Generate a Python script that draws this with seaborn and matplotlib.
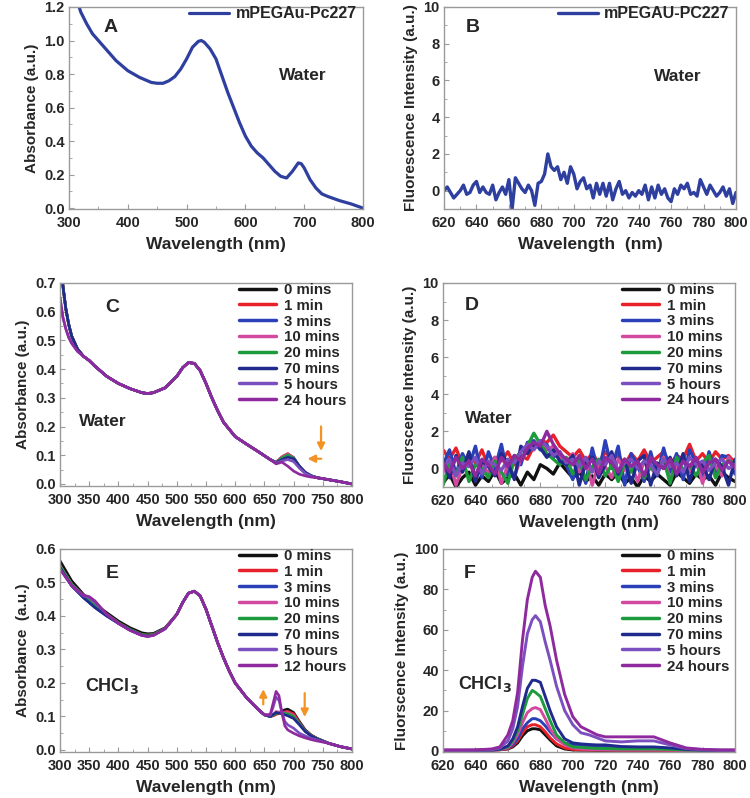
import numpy as np
import pandas as pd
import matplotlib
matplotlib.use("Agg")
import matplotlib.pyplot as plt
import seaborn as sns

# ---------------- data ----------------
# Panel A: absorbance of mPEGAu-Pc227 in water
wl_a = [300, 310, 320, 330, 340, 350, 360, 370, 380, 390, 400, 410, 420, 430, 440, 450, 460,
        470, 480, 490, 500, 510, 520, 525, 530, 540, 550, 560, 570, 580, 590, 600, 610, 620,
        630, 640, 650, 660, 670, 680, 690, 695, 700, 710, 720, 730, 740, 760, 780, 800]
abs_a = [1.42, 1.28, 1.17, 1.10, 1.04, 1.00, 0.96, 0.92, 0.88, 0.85, 0.82, 0.80, 0.78, 0.765,
         0.75, 0.745, 0.745, 0.76, 0.785, 0.83, 0.89, 0.96, 0.995, 1.0, 0.99, 0.95, 0.89, 0.79,
         0.69, 0.60, 0.51, 0.43, 0.37, 0.33, 0.30, 0.26, 0.22, 0.19, 0.18, 0.22, 0.27, 0.265,
         0.24, 0.17, 0.12, 0.085, 0.07, 0.045, 0.025, 0.0]

# Panel B: fluorescence of mPEGAu-Pc227 in water (2 nm steps)
wl_b = list(range(620, 801, 2))
fl_b = [0.0, 0.2, -0.1, -0.4, -0.2, 0.0, 0.3, -0.2, -0.1, 0.3,
        0.5, -0.1, 0.2, -0.1, -0.2, 0.3, -0.5, -0.1, 0.2, -0.2,
        0.6, -1.0, 0.7, 0.4, 0.1, -0.1, 0.3, 0.0, -0.8, 0.4,
        0.5, 0.9, 2.0, 1.3, 1.1, 1.3, 0.6, 1.0, 0.4, 1.3,
        0.9, 0.1, 0.5, 0.7, 0.1, 0.3, -0.4, 0.4, -0.2, 0.4,
        -0.3, 0.4, -0.5, 0.1, 0.5, -0.2, 0.0, -0.4, -0.1, -0.3,
        0.0, -0.2, 0.3, -0.5, 0.2, -0.4, 0.3, -0.2, 0.1, -0.4,
        -0.6, 0.1, -0.2, 0.3, 0.1, 0.4, -0.2, -0.1, -0.3, 0.6,
        0.2, -0.2, 0.3, 0.0, -0.3, -0.1, 0.2, -0.3, 0.1, -0.7,
        -0.1]

times_water = ["0 mins", "1 min", "3 mins", "10 mins", "20 mins", "70 mins", "5 hours", "24 hours"]
times_chcl3_abs = ["0 mins", "1 min", "3 mins", "10 mins", "20 mins", "70 mins", "5 hours", "12 hours"]
series_colors = ["#111111", "#e8202a", "#2b40b8", "#d24aa0", "#1d9b3c", "#1f2a8c", "#7b4fbf", "#8e2a9e"]

# Panel C: absorbance in water, pieces of the spectrum
wl_c_head = [300, 305, 310, 315, 320, 330]
wl_c_mid = [340, 350, 360, 380, 400, 420, 440, 450, 460, 480, 500, 510, 520, 530, 540, 550,
            560, 570, 580, 590, 600, 620, 640, 660]
wl_c_peak = [670, 680, 690, 700, 710, 720, 730]
wl_c_tail = [740, 760, 780, 800]
abs_c_head = [
    [0.80, 0.69, 0.61, 0.555, 0.515, 0.47],
    [0.80, 0.69, 0.61, 0.555, 0.515, 0.47],
    [0.80, 0.69, 0.61, 0.555, 0.515, 0.47],
    [0.80, 0.69, 0.61, 0.555, 0.515, 0.47],
    [0.80, 0.69, 0.61, 0.555, 0.515, 0.47],
    [0.80, 0.69, 0.61, 0.555, 0.515, 0.47],
    [0.65, 0.58, 0.54, 0.51, 0.49, 0.462],
    [0.65, 0.58, 0.54, 0.51, 0.49, 0.462],
]
abs_c_mid = [0.445, 0.43, 0.41, 0.375, 0.35, 0.332, 0.318, 0.315, 0.318, 0.335, 0.375, 0.405,
             0.423, 0.42, 0.395, 0.35, 0.30, 0.255, 0.215, 0.19, 0.165, 0.138, 0.112, 0.085]
abs_c_peak = [
    [0.075, 0.092, 0.103, 0.090, 0.058, 0.038, 0.028],
    [0.076, 0.095, 0.106, 0.092, 0.060, 0.039, 0.028],
    [0.075, 0.090, 0.100, 0.092, 0.062, 0.040, 0.029],
    [0.076, 0.094, 0.105, 0.091, 0.059, 0.038, 0.028],
    [0.075, 0.091, 0.101, 0.090, 0.060, 0.039, 0.028],
    [0.074, 0.085, 0.093, 0.088, 0.062, 0.041, 0.029],
    [0.073, 0.080, 0.085, 0.078, 0.055, 0.037, 0.027],
    [0.070, 0.076, 0.062, 0.045, 0.034, 0.028, 0.024],
]
abs_c_tail = [0.022, 0.015, 0.008, 0.0]

# Panel D: fluorescence in water (4 nm steps)
wl_d = list(range(620, 801, 4))
fl_d = [
    [-0.8, -0.3, -1.0, -0.5, -0.2, -0.9, -0.4, -0.7, -0.1, -0.8,
     -0.5, -0.3, -0.9, -0.2, -0.6, 0.2, 0.0, -0.3, 0.3, -0.1,
     -0.5, -0.2, -0.7, -0.4, -0.9, -0.3, -0.6, -0.2, -0.8, -0.5,
     -1.0, -0.4, -0.7, -0.3, -0.6, -0.9, -0.2, -0.5, -0.8, -0.3,
     -0.6, -0.4, -0.9, -0.2, -0.5, -0.7],
    [1.0, 0.5, 1.1, 0.2, 0.8, 0.3, 1.0, 0.1, 0.6, 0.4,
     0.9, 0.2, 0.7, 0.5, 1.2, 1.5, 1.4, 1.8, 1.2, 0.9,
     0.6, 1.0, 0.4, 0.8, 0.3, 0.9, 0.5, 0.7, 0.2, 0.8,
     0.4, 1.0, 0.3, 0.6, 0.9, 0.2, 0.7, 0.5, 1.3, 0.4,
     0.8, 0.3, 0.9, 0.5, 0.7, 0.3],
    [0.2, 1.0, -0.3, 0.8, 0.1, 1.2, -0.5, 0.9, 0.0, 1.3,
     -0.4, 0.7, 0.2, 1.4, 1.5, 1.0, 1.3, 0.6, 0.9, 0.2,
     -0.6, 0.5, -0.8, 1.1, -0.3, 1.5, 0.0, 1.2, -0.9, 0.8,
     0.1, -0.7, 0.9, -0.4, 1.1, -0.2, 0.8, -0.6, 1.0, 0.3,
     -0.5, 0.9, -0.2, 0.7, 0.6, -0.3],
    [-0.2, 0.4, -0.9, 0.1, 0.5, -0.6, 0.3, -0.3, 0.6, -0.8,
     0.2, -0.4, 0.5, 0.9, 1.1, 1.4, 1.0, 1.2, 0.6, 0.3,
     0.8, -0.2, 0.4, -0.9, 0.3, 0.1, -0.5, 0.5, -0.1, 0.2,
     -0.7, 0.4, 0.0, -0.3, 0.6, -0.6, 0.2, 0.4, -0.2, 0.5,
     -0.8, 0.3, 0.1, -0.4, 0.6, 0.0],
    [-0.9, 0.3, -0.4, 0.6, -0.7, 0.2, 0.0, -0.5, 0.4, -0.2,
     -0.8, 0.5, 0.9, 1.2, 1.9, 1.3, 0.8, 0.5, 0.2, 0.6,
     -0.3, 0.4, -0.6, 0.1, 0.5, -0.4, 0.2, -0.7, 0.3, -0.2,
     0.4, -0.5, 0.1, -0.3, 0.5, -0.8, 0.6, -0.1, 0.2, -0.4,
     0.3, 0.7, -0.5, 0.2, 0.4, 0.3],
    [0.5, -0.5, 0.7, -0.2, 0.9, -0.7, 0.4, 0.1, -0.4, 0.8,
     0.3, -0.6, 1.2, 0.8, 1.3, 1.1, 0.6, 1.0, 0.4, 0.2,
     0.7, -0.9, 0.3, 0.6, -0.5, 0.2, 0.9, -0.3, 0.5, -0.8,
     0.4, 0.7, -0.9, 0.3, 0.0, 0.6, -0.4, 0.8, -0.7, 0.4,
     0.2, -0.6, 0.5, 0.1, -0.9, 0.5],
    [0.0, 0.5, -0.4, 0.3, 0.1, 0.6, -0.3, 0.4, 0.2, -0.1,
     0.5, 0.3, 0.9, 1.3, 1.0, 1.5, 1.2, 0.7, 0.9, 0.3,
     0.5, 0.1, 0.6, -0.2, 0.4, 0.2, 0.7, -0.1, 0.3, 0.5,
     0.0, 0.4, 0.2, -0.3, 0.5, 0.1, 0.3, -0.2, 0.6, 0.2,
     0.4, -0.1, 0.3, 0.5, 0.0, 0.2],
    [0.3, -0.2, 0.6, 0.0, 0.4, -0.4, 0.5, 0.2, -0.3, 0.6,
     0.1, 0.7, 0.4, 1.1, 1.4, 1.2, 2.0, 1.3, 0.8, 0.5,
     0.2, 0.7, 0.0, 0.5, -0.3, 0.6, 0.3, -0.2, 0.5, 0.1,
     0.4, -0.4, 0.6, 0.2, 0.0, 0.5, -0.3, 0.4, 0.1, 0.6,
     -0.2, 0.3, 0.5, -0.1, 0.4, 0.1],
]

# Panel E: absorbance in CHCl3, pieces of the spectrum
wl_e_head = [300, 320, 340, 350, 360, 380, 400, 420, 440, 450, 460, 480]
wl_e_mid = [500, 510, 520, 530, 540, 550, 560, 570, 580, 590, 600, 620, 640]
wl_e_peak = [650, 660, 665, 670, 675, 680, 685, 690, 700, 710, 720, 730, 740]
wl_e_tail = [760, 780, 800]
abs_e_head = [
    [0.565, 0.505, 0.465, 0.45, 0.435, 0.41, 0.385, 0.365, 0.35, 0.347, 0.348, 0.365],
    [0.55, 0.495, 0.46, 0.445, 0.43, 0.405, 0.38, 0.36, 0.345, 0.343, 0.345, 0.363],
    [0.545, 0.49, 0.455, 0.44, 0.425, 0.40, 0.378, 0.358, 0.343, 0.34, 0.343, 0.362],
    [0.55, 0.495, 0.462, 0.455, 0.44, 0.405, 0.378, 0.358, 0.343, 0.34, 0.343, 0.362],
    [0.55, 0.495, 0.46, 0.445, 0.43, 0.405, 0.38, 0.36, 0.345, 0.343, 0.345, 0.363],
    [0.545, 0.49, 0.455, 0.44, 0.425, 0.40, 0.378, 0.358, 0.343, 0.34, 0.343, 0.362],
    [0.54, 0.49, 0.46, 0.455, 0.44, 0.405, 0.378, 0.357, 0.342, 0.339, 0.342, 0.362],
    [0.54, 0.49, 0.462, 0.458, 0.445, 0.405, 0.378, 0.357, 0.342, 0.339, 0.342, 0.362],
]
abs_e_mid = [0.405, 0.44, 0.468, 0.474, 0.46, 0.42, 0.37, 0.32, 0.275, 0.235, 0.20, 0.155, 0.12]
abs_e_peak = [
    [0.105, 0.10, 0.103, 0.108, 0.112, 0.116, 0.12, 0.122, 0.112, 0.085, 0.06, 0.045, 0.035],
    [0.105, 0.10, 0.102, 0.106, 0.109, 0.112, 0.114, 0.115, 0.108, 0.082, 0.058, 0.044, 0.034],
    [0.105, 0.10, 0.104, 0.11, 0.112, 0.112, 0.11, 0.108, 0.10, 0.08, 0.057, 0.043, 0.034],
    [0.105, 0.10, 0.105, 0.115, 0.113, 0.11, 0.111, 0.112, 0.103, 0.078, 0.056, 0.043, 0.034],
    [0.105, 0.10, 0.104, 0.11, 0.11, 0.11, 0.109, 0.108, 0.10, 0.078, 0.056, 0.043, 0.034],
    [0.105, 0.10, 0.106, 0.112, 0.11, 0.108, 0.105, 0.102, 0.094, 0.075, 0.055, 0.042, 0.033],
    [0.105, 0.104, 0.128, 0.158, 0.148, 0.112, 0.085, 0.075, 0.065, 0.05, 0.042, 0.035, 0.03],
    [0.105, 0.106, 0.14, 0.175, 0.162, 0.11, 0.072, 0.06, 0.05, 0.042, 0.036, 0.031, 0.027],
]
abs_e_tail = [0.02, 0.01, 0.003]

# Panel F: fluorescence in CHCl3
wl_f = [620, 630, 640, 650, 655, 660, 663, 666, 669, 672, 675, 677, 680, 683, 686, 690, 695,
        700, 705, 710, 715, 720, 730, 740, 750, 760, 770, 780, 790, 800]
fl_f = [
    [0.2, 0.2, 0.3, 0.4, 0.6, 1.0, 2.0, 4.0, 7.5, 10.0, 11.0, 11.0, 10.5, 8.0, 5.5, 2.5, 1.0,
     0.5, 0.4, 0.4, 0.3, 0.3, 0.3, 0.3, 0.3, 0.2, 0.2, 0.2, 0.2, 0.2],
    [0.3, 0.3, 0.3, 0.4, 0.6, 1.2, 2.5, 5.0, 9.0, 12.0, 13.0, 13.0, 12.0, 9.5, 6.5, 3.5, 1.5,
     0.8, 0.6, 0.5, 0.5, 0.5, 0.4, 0.4, 0.4, 0.3, 0.3, 0.3, 0.3, 0.3],
    [0.3, 0.3, 0.3, 0.5, 0.8, 1.5, 3.0, 6.0, 11.0, 14.0, 16.0, 16.0, 15.0, 12.5, 9.5, 6.0, 4.0,
     3.0, 2.8, 2.5, 2.3, 2.2, 1.8, 1.8, 1.6, 1.2, 0.7, 0.4, 0.3, 0.3],
    [0.3, 0.3, 0.3, 0.5, 0.8, 1.5, 4.0, 8.0, 14.0, 19.0, 21.0, 21.5, 20.5, 16.0, 11.0, 6.0, 3.0,
     1.5, 1.0, 0.8, 0.7, 0.6, 0.5, 0.5, 0.5, 0.4, 0.3, 0.3, 0.3, 0.3],
    [0.3, 0.3, 0.3, 0.5, 0.9, 2.0, 5.0, 10.0, 18.0, 26.0, 30.0, 29.0, 27.0, 21.0, 15.0, 8.0, 4.0,
     2.0, 1.8, 1.5, 1.3, 1.2, 1.0, 1.0, 1.0, 0.8, 0.5, 0.3, 0.3, 0.3],
    [0.3, 0.3, 0.3, 0.5, 0.9, 2.5, 6.0, 12.0, 22.0, 31.0, 35.0, 35.0, 34.0, 27.0, 20.0, 12.0, 6.0,
     4.0, 3.5, 3.2, 3.0, 3.0, 2.2, 2.0, 2.0, 1.5, 0.8, 0.4, 0.3, 0.3],
    [0.3, 0.3, 0.4, 0.6, 1.5, 5.0, 11.0, 22.0, 42.0, 58.0, 65.0, 67.0, 64.0, 54.0, 45.0, 32.0, 20.0,
     13.0, 9.0, 8.0, 6.5, 5.0, 4.5, 5.0, 5.0, 3.0, 1.2, 0.6, 0.4, 0.3],
    [0.5, 0.5, 0.5, 1.0, 2.0, 8.0, 15.0, 29.0, 55.0, 75.0, 86.0, 89.0, 86.0, 72.0, 62.0, 45.0, 28.0,
     17.0, 12.0, 10.0, 8.0, 7.0, 7.0, 7.0, 7.0, 4.0, 1.5, 0.8, 0.5, 0.5],
]

# ---------------- style ----------------
sns.set_style("ticks")
plt.rcParams["font.family"] = ["Liberation Sans", "DejaVu Sans"]
plt.rcParams["font.weight"] = "bold"
plt.rcParams["mathtext.default"] = "bf"

SPINE = "#9a9a9a"
ORANGE = "#f39325"
LINE_AB = "#2e3f9f"


def long_frame(wl, rows, labels):
    parts = []
    for lab, vals in zip(labels, rows):
        parts.append(pd.DataFrame({"wl": wl, "y": vals, "series": lab}))
    return pd.concat(parts, ignore_index=True)


def style_axes(ax, xlim, ylim, xmaj, xmin, ymaj, ymin, xlabel, ylabel):
    ax.set_xlim(*xlim)
    ax.set_ylim(*ylim)
    ax.set_xticks(np.arange(xlim[0], xlim[1] + 0.001, xmaj))
    ax.set_xticks(np.arange(xlim[0], xlim[1] + 0.001, xmin), minor=True)
    ax.set_yticks(ymaj)
    ax.set_yticks(ymin, minor=True)
    for s in ax.spines.values():
        s.set_color(SPINE)
        s.set_linewidth(1.0)
        s.set_visible(True)
    ax.tick_params(which="both", direction="in", color=SPINE, labelsize=10.5)
    ax.tick_params(axis="x", pad=5)
    ax.tick_params(axis="y", pad=3)
    ax.tick_params(which="major", length=3.5)
    ax.tick_params(which="minor", length=2)
    ax.set_xlabel(xlabel, fontsize=12.5, fontweight="bold", labelpad=5)
    ax.set_ylabel(ylabel, fontsize=11, fontweight="bold", labelpad=4)


def multi_legend(ax):
    h, l = ax.get_legend_handles_labels()
    leg = ax.legend(h, l, loc="upper right", bbox_to_anchor=(1.0, 1.03), frameon=False,
                    fontsize=10.8, handlelength=2.5, handletextpad=0.5, labelspacing=0.12,
                    borderaxespad=0.0)
    for line in leg.get_lines():
        line.set_linewidth(2.5)


fig = plt.figure(figsize=(7.5, 7.98), dpi=100)
W, H = 750.0, 798.0


def add_ax(left, top, right, bottom):
    return fig.add_axes([left / W, 1 - bottom / H, (right - left) / W, (bottom - top) / H])


# ---- A ----
ax = add_ax(69, 7, 363, 209)
sns.lineplot(x=wl_a, y=abs_a, ax=ax, color=LINE_AB, lw=2.3, label="mPEGAu-Pc227")
style_axes(ax, (300, 800), (-0.005, 1.2), 100, 50,
           np.arange(0, 1.21, 0.2), np.arange(0, 1.21, 0.1), "Wavelength (nm)", "Absorbance (a.u.)")
ax.set_yticklabels([f"{v:.1f}" for v in np.arange(0, 1.21, 0.2)])
ax.legend(loc="upper right", bbox_to_anchor=(1.0, 1.035), frameon=False, fontsize=11.5,
          handlelength=2.5, handletextpad=0.4, borderaxespad=0.0)
ax.text(0.14, 0.9, "A", transform=ax.transAxes, fontsize=14, fontweight="bold", ha="center", va="center")
ax.text(698, 0.79, "Water", fontsize=12.5, fontweight="bold", ha="center", va="center")

# ---- B ----
ax = add_ax(444, 7, 736, 209)
sns.lineplot(x=wl_b, y=fl_b, ax=ax, color=LINE_AB, lw=2.4, label="mPEGAU-PC227")
style_axes(ax, (620, 800), (-1, 10), 20, 10,
           np.arange(0, 10.1, 2), np.arange(-1, 10.1, 1), "Wavelength  (nm)",
           "Fluorescence Intensity (a.u.)")
ax.legend(loc="upper right", bbox_to_anchor=(1.0, 1.035), frameon=False, fontsize=11.5,
          handlelength=2.5, handletextpad=0.4, borderaxespad=0.0)
ax.text(0.1, 0.9, "B", transform=ax.transAxes, fontsize=14, fontweight="bold", ha="center", va="center")
ax.text(764, 6.24, "Water", fontsize=12.5, fontweight="bold", ha="center", va="center")

# ---- C ----
ax = add_ax(60, 283, 352, 486)
rows_c = [h + abs_c_mid + p + abs_c_tail for h, p in zip(abs_c_head, abs_c_peak)]
df_c = long_frame(wl_c_head + wl_c_mid + wl_c_peak + wl_c_tail, rows_c, times_water)
sns.lineplot(data=df_c, x="wl", y="y", hue="series", hue_order=times_water,
             palette=dict(zip(times_water, series_colors)), estimator=None, sort=False,
             lw=1.9, ax=ax)
style_axes(ax, (300, 800), (-0.007, 0.7), 50, 25,
           np.arange(0, 0.71, 0.1), np.arange(0, 0.71, 0.05), "Wavelength (nm)", "Absorbance (a.u.)")
ax.set_yticklabels([f"{v:.1f}" for v in np.arange(0, 0.71, 0.1)])
multi_legend(ax)
ax.text(0.18, 0.88, "C", transform=ax.transAxes, fontsize=14, fontweight="bold", ha="center", va="center")
ax.text(374, 0.216, "Water", fontsize=12.5, fontweight="bold", ha="center", va="center")
ax.annotate("", xy=(747, 0.105), xytext=(747, 0.21),
            arrowprops=dict(arrowstyle="-|>", color=ORANGE, lw=1.6, mutation_scale=11))
ax.annotate("", xy=(719, 0.088), xytext=(752, 0.088),
            arrowprops=dict(arrowstyle="-|>", color=ORANGE, lw=1.6, mutation_scale=11))

# ---- D ----
ax = add_ax(443, 283, 735, 487)
df_d = long_frame(wl_d, fl_d, times_water)
sns.lineplot(data=df_d, x="wl", y="y", hue="series", hue_order=times_water,
             palette=dict(zip(times_water, series_colors)), estimator=None, sort=False,
             lw=2.4, ax=ax)
style_axes(ax, (620, 800), (-1, 10), 20, 10,
           np.arange(0, 10.1, 2), np.arange(-1, 10.1, 1), "Wavelength (nm)",
           "Fluorscence Intensity (a.u.)")
multi_legend(ax)
ax.text(0.1, 0.89, "D", transform=ax.transAxes, fontsize=14, fontweight="bold", ha="center", va="center")
ax.text(648, 2.72, "Water", fontsize=12.5, fontweight="bold", ha="center", va="center")

# ---- E ----
ax = add_ax(60, 549, 352, 752)
rows_e = [h + abs_e_mid + p + abs_e_tail for h, p in zip(abs_e_head, abs_e_peak)]
df_e = long_frame(wl_e_head + wl_e_mid + wl_e_peak + wl_e_tail, rows_e, times_chcl3_abs)
sns.lineplot(data=df_e, x="wl", y="y", hue="series", hue_order=times_chcl3_abs,
             palette=dict(zip(times_chcl3_abs, series_colors)), estimator=None, sort=False,
             lw=1.9, ax=ax)
style_axes(ax, (300, 800), (-0.006, 0.6), 50, 25,
           np.arange(0, 0.61, 0.1), np.arange(0, 0.61, 0.05), "Wavelength (nm)", "Absorbance  (a.u.)")
ax.set_yticklabels([f"{v:.1f}" for v in np.arange(0, 0.61, 0.1)])
multi_legend(ax)
ax.text(0.18, 0.877, "E", transform=ax.transAxes, fontsize=14, fontweight="bold", ha="center", va="center")
ax.text(389, 0.192, r"CHCl$_3$", fontsize=13, fontweight="bold", ha="center", va="center")
ax.annotate("", xy=(648, 0.19), xytext=(648, 0.128),
            arrowprops=dict(arrowstyle="-|>", color=ORANGE, lw=1.6, mutation_scale=11))
ax.annotate("", xy=(719, 0.09), xytext=(719, 0.178),
            arrowprops=dict(arrowstyle="-|>", color=ORANGE, lw=1.6, mutation_scale=11))

# ---- F ----
ax = add_ax(443, 549, 735, 752)
df_f = long_frame(wl_f, fl_f, times_water)
sns.lineplot(data=df_f, x="wl", y="y", hue="series", hue_order=times_water,
             palette=dict(zip(times_water, series_colors)), estimator=None, sort=False,
             lw=2.1, ax=ax)
style_axes(ax, (620, 800), (-0.5, 100), 20, 10,
           np.arange(0, 100.1, 20), np.arange(0, 100.1, 10), "Wavelength (nm)",
           "Fluorscence Intensity (a.u.)")
multi_legend(ax)
ax.text(0.09, 0.88, "F", transform=ax.transAxes, fontsize=14, fontweight="bold", ha="center", va="center")
ax.text(646, 33, r"CHCl$_3$", fontsize=13, fontweight="bold", ha="center", va="center")

fig.savefig("out.png", dpi=100)
